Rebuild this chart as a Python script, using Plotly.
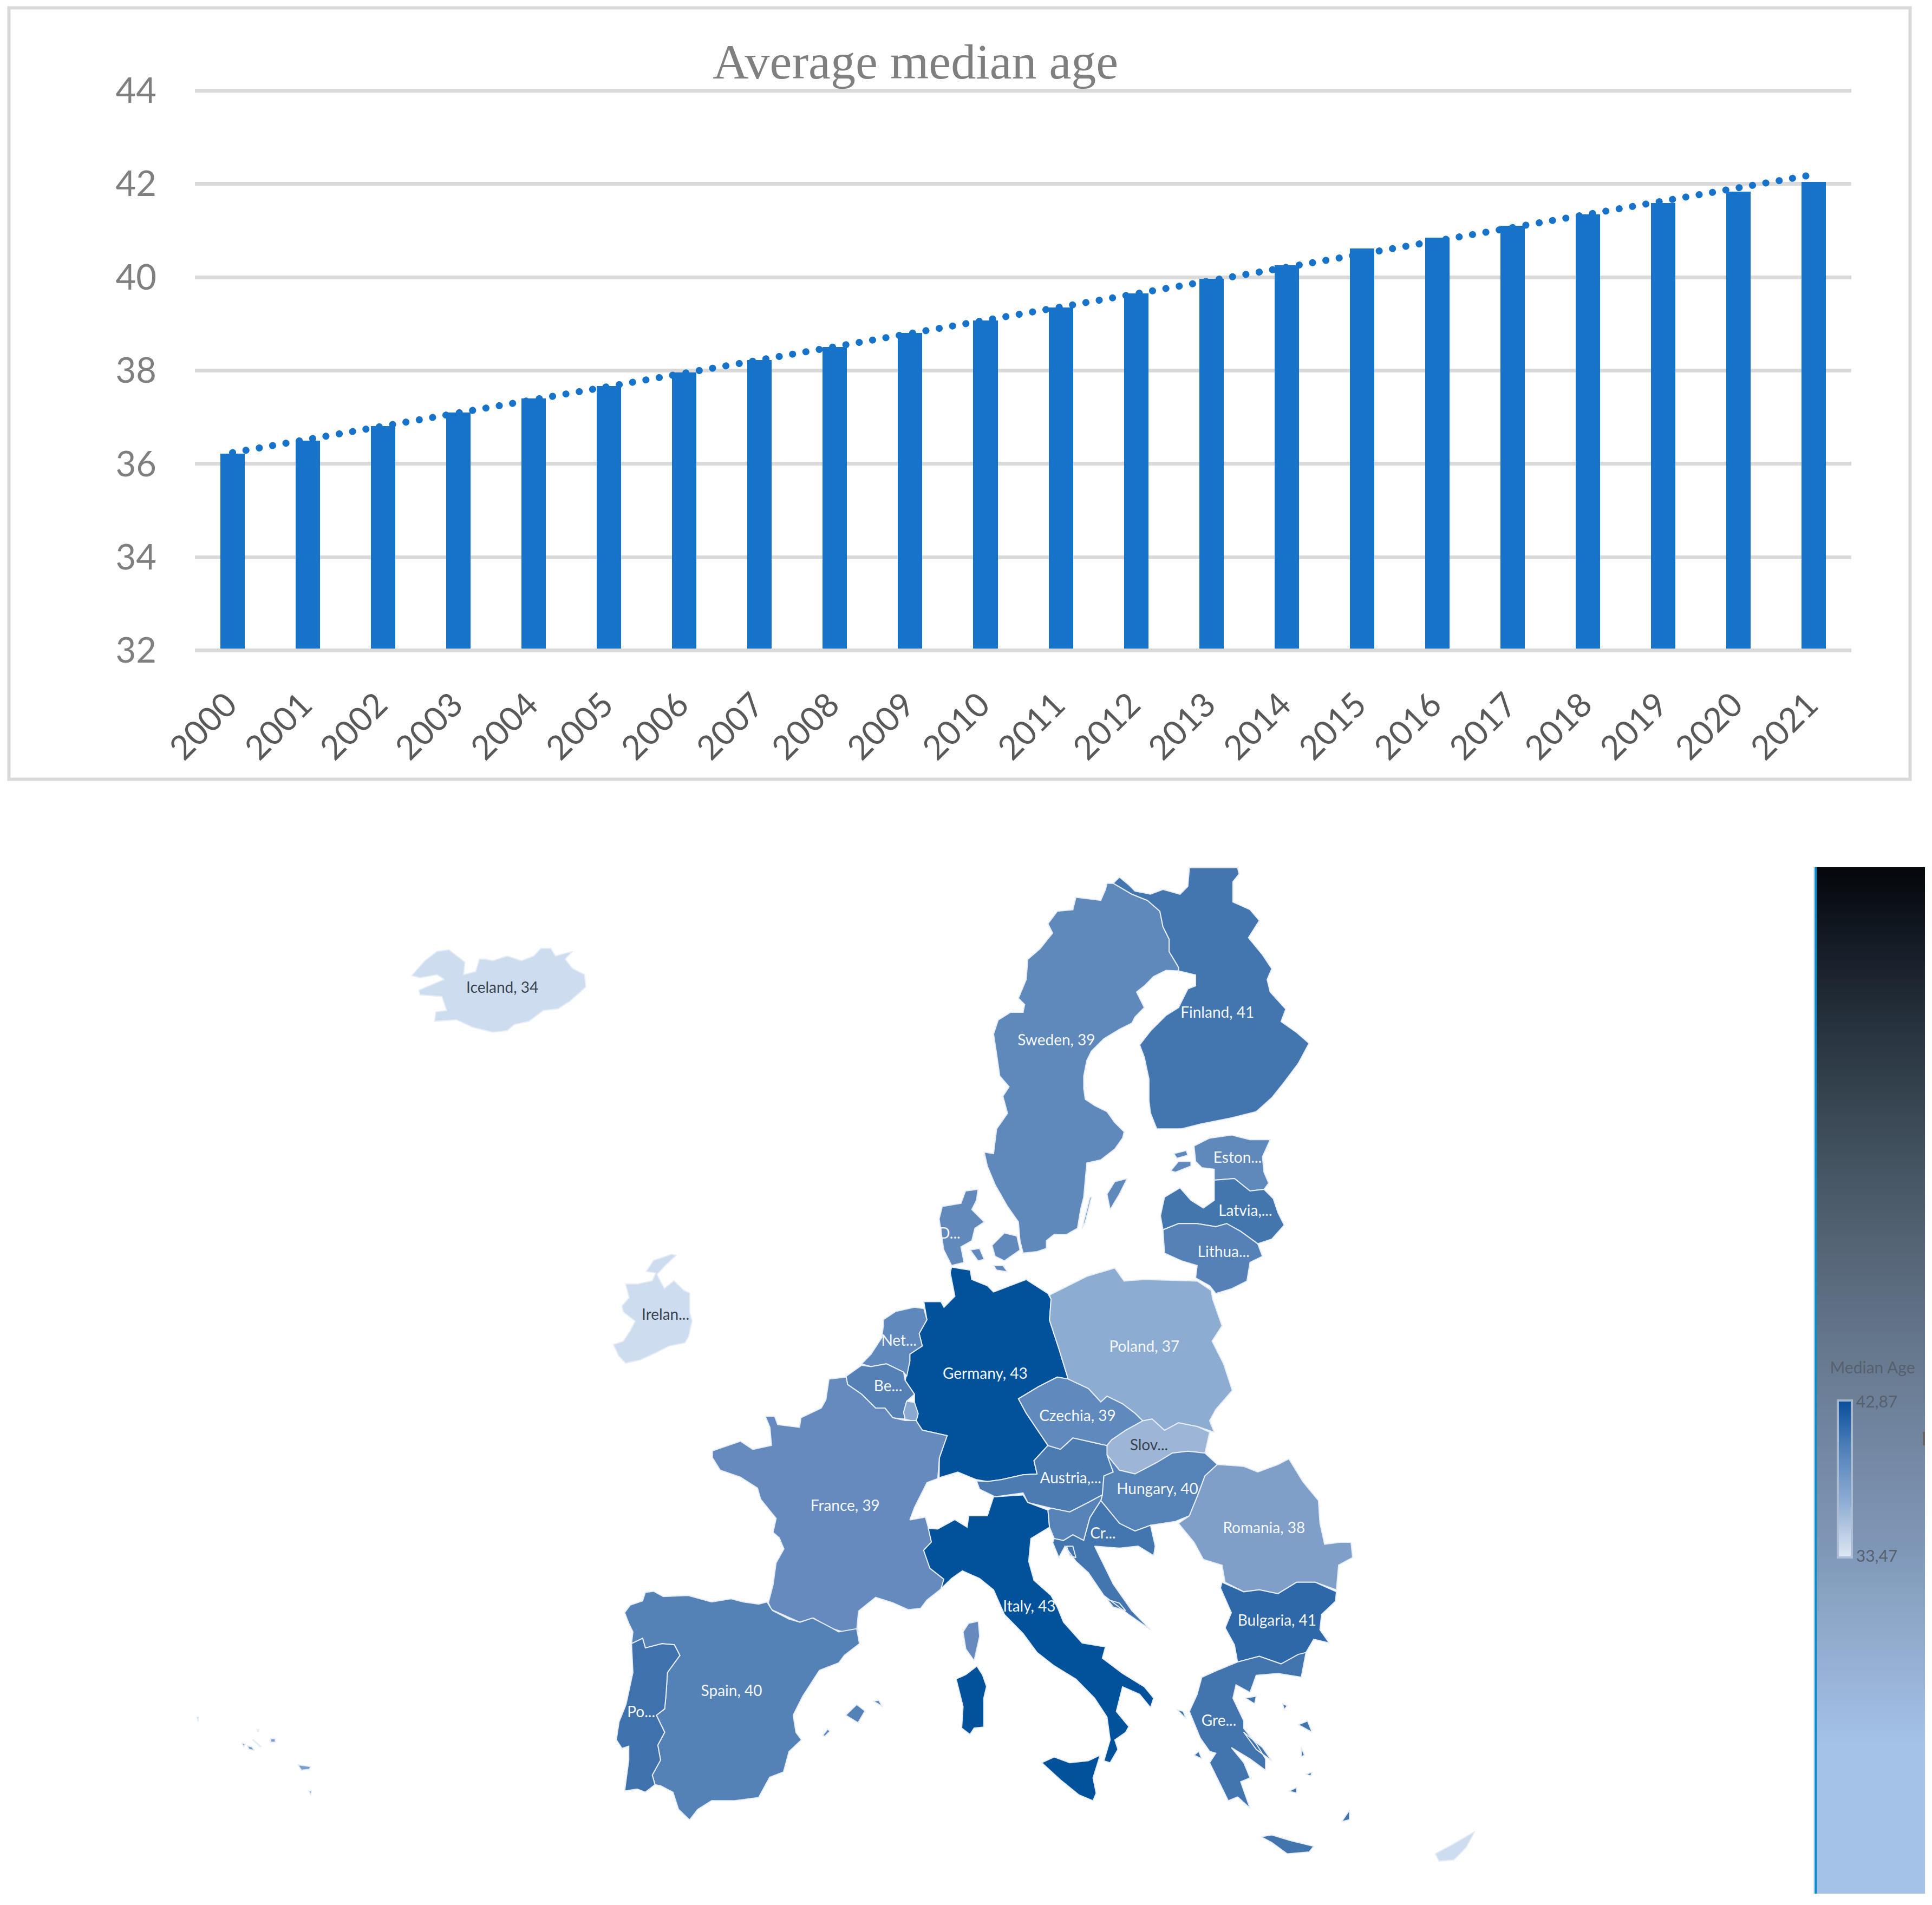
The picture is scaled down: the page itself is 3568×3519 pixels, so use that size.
import numpy as np
import plotly.graph_objects as go

W, H = 3568, 3519

years = list(range(2000, 2022))
median_age = [36.22, 36.5, 36.81, 37.1, 37.4, 37.67, 37.96, 38.22, 38.5, 38.8, 39.07,
              39.35, 39.65, 39.96, 40.26, 40.62, 40.85, 41.1, 41.35, 41.59, 41.83, 42.04]
trend_years = [2000, 2021]
trend_age = [36.24, 42.2]
y_ticks = [32, 34, 36, 38, 40, 42, 44]

BAR_BLUE = "#1772C9"
GRID = "#D9D9D9"
LABEL_FONT = "Lato, sans-serif"


# outlines were traced on enlarged crops of the map: crop origin and scale in each direction
def trace(crop, pts):
    x0, y0, sx, sy = crop
    return [(x0 + px / sx, y0 + py / sy) for px, py in pts]


NORTH = (1700, 1580, 1.742, 1.742)
WEST = (1000, 2300, 1.742, 1.96)
SOUTH = (1700, 2400, 1.742, 1.425)
IBERIA = (1100, 2900, 1.96, 2.533)
ATLANTIC = (700, 1700, 2.24, 1.742)
CANARY = (300, 3100, 3, 3)
WHOLE = (0, 0, 0.4395, 0.4395)

sweden = [
    trace(NORTH, [(600, 90), (620, 90), (680, 125), (730, 145), (770, 180), (780, 230), (800, 270), (800, 310), (830, 360), (830, 372), (790, 370), (750, 390), (720, 420), (695, 440), (710, 470), (720, 490), (690, 520), (680, 540), (640, 560), (590, 590), (550, 630), (535, 660), (525, 710), (525, 750), (530, 785), (560, 805), (600, 825), (625, 860), (655, 890), (650, 910), (625, 945), (580, 980), (535, 990), (530, 1050), (525, 1100), (515, 1140), (505, 1200), (470, 1220), (430, 1220), (405, 1240), (405, 1265), (375, 1275), (330, 1280), (320, 1240), (315, 1180), (280, 1130), (240, 1060), (215, 1000), (205, 955), (235, 960), (245, 880), (280, 830), (265, 775), (285, 745), (255, 710), (245, 640), (235, 575), (250, 530), (290, 505), (330, 505), (335, 480), (315, 460), (340, 400), (345, 335), (385, 300), (425, 250), (410, 220), (440, 180), (490, 175), (500, 135), (580, 145), (595, 110)]),
    trace(NORTH, [(600, 1090), (625, 1050), (665, 1040), (640, 1090), (610, 1140)]),
    trace(NORTH, [(520, 1200), (545, 1100), (550, 1100), (530, 1180)]),
]
finland = [
    trace(NORTH, [(640, 70), (670, 95), (690, 115), (740, 125), (780, 110), (835, 125), (860, 100), (865, 40), (1020, 40), (1025, 60), (1005, 85), (1005, 150), (1060, 175), (1090, 210), (1055, 265), (1100, 320), (1130, 365), (1115, 400), (1125, 440), (1175, 495), (1160, 535), (1210, 570), (1250, 605), (1215, 670), (1170, 730), (1130, 780), (1080, 825), (1000, 845), (900, 865), (840, 880), (760, 880), (740, 830), (735, 790), (735, 720), (720, 650), (705, 610), (740, 565), (790, 515), (830, 490), (860, 430), (885, 420), (885, 385), (830, 372), (830, 360), (800, 310), (800, 270), (780, 230), (770, 180), (730, 145), (680, 125), (620, 90)]),
]
estonia = [
    trace(NORTH, [(880, 935), (930, 910), (1000, 900), (1060, 915), (1125, 915), (1100, 970), (1105, 1020), (1120, 1055), (1105, 1075), (1060, 1080), (1010, 1040), (945, 1045), (945, 1010), (905, 1005), (885, 985)]),
    trace(NORTH, [(805, 1015), (830, 985), (870, 985), (870, 1000), (820, 1020)]),
    trace(NORTH, [(815, 960), (855, 950), (860, 965), (825, 975)]),
]
latvia = [
    trace(NORTH, [(945, 1045), (1010, 1040), (1060, 1080), (1105, 1075), (1135, 1105), (1150, 1150), (1170, 1190), (1130, 1235), (1085, 1250), (1030, 1210), (985, 1185), (950, 1195), (890, 1185), (830, 1185), (780, 1205), (772, 1160), (785, 1100), (835, 1070), (870, 1110), (910, 1135), (945, 1110)]),
]
lithuania = [
    trace(NORTH, [(780, 1205), (830, 1185), (890, 1185), (950, 1195), (985, 1185), (1030, 1210), (1085, 1250), (1100, 1290), (1060, 1310), (1050, 1370), (1000, 1395), (950, 1410), (930, 1385), (885, 1360), (890, 1320), (840, 1305), (785, 1280)]),
]
denmark = [
    trace(NORTH, [(60, 1170), (70, 1130), (130, 1120), (145, 1080), (185, 1075), (180, 1110), (165, 1140), (205, 1180), (175, 1200), (165, 1240), (130, 1260), (140, 1310), (100, 1320), (75, 1270)]),
    trace(NORTH, [(160, 1270), (190, 1265), (205, 1300), (185, 1305)]),
    trace(NORTH, [(230, 1255), (270, 1215), (310, 1225), (320, 1270), (270, 1305), (240, 1290)]),
    trace(NORTH, [(235, 1320), (265, 1320), (280, 1340), (245, 1335)]),
]
germany = [
    trace(NORTH, [(100, 1325), (160, 1335), (165, 1365), (215, 1385), (235, 1405), (300, 1380), (340, 1365), (410, 1410)])
    + trace(SOUTH, [(420, 0), (415, 55), (445, 130), (475, 210), (440, 205), (380, 230), (315, 262), (340, 300), (410, 385), (365, 425), (375, 460), (330, 462), (260, 475), (215, 480), (180, 475), (120, 455), (60, 470)])
    + trace(WEST, [(1280, 770), (1305, 690), (1225, 670), (1205, 635), (1200, 570), (1200, 540), (1170, 490), (1185, 420), (1185, 395), (1225, 365), (1215, 320), (1240, 270), (1230, 205), (1285, 205), (1295, 225), (1330, 185), (1315, 100)]),
]
netherlands = [
    trace(WEST, [(1100, 270), (1140, 240), (1200, 225), (1230, 230), (1240, 270), (1215, 320), (1225, 365), (1185, 395), (1185, 420), (1175, 475), (1165, 460), (1110, 430), (1060, 440), (1030, 430), (1060, 395), (1095, 335), (1100, 290)]),
]
belgium = [
    trace(WEST, [(980, 475), (1030, 435), (1060, 440), (1110, 430), (1165, 460), (1170, 490), (1200, 540), (1175, 565), (1165, 605), (1170, 630), (1130, 625), (1105, 590), (1075, 590), (1030, 540), (985, 505)]),
]
luxembourg = [
    trace(WEST, [(1175, 565), (1200, 570), (1212, 610), (1205, 640), (1170, 630), (1165, 605)]),
]
france = [
    trace(WEST, [(925, 485), (980, 478), (985, 505), (1030, 540), (1075, 590), (1105, 590), (1130, 625), (1170, 635), (1205, 635), (1225, 670), (1305, 690), (1280, 770), (1275, 845), (1240, 860), (1200, 950), (1185, 995), (1235, 985), (1245, 1025), (1255, 1075), (1230, 1105), (1250, 1170), (1295, 1210), (1285, 1245), (1240, 1285), (1220, 1315), (1180, 1320), (1130, 1295), (1075, 1275), (1020, 1325), (1015, 1385), (1020, 1400), (985, 1405), (925, 1385), (875, 1350), (830, 1365), (780, 1340), (740, 1320), (730, 1295), (745, 1230), (755, 1150), (780, 1100), (765, 1060), (745, 1040), (755, 990), (705, 920), (695, 880), (640, 840), (575, 815), (550, 770), (550, 745), (640, 710), (680, 740), (740, 725), (735, 660), (720, 620), (750, 620), (760, 650), (830, 660), (835, 625), (900, 590), (915, 560)]),
    trace(IBERIA, [(1330, 290), (1350, 250), (1385, 240), (1390, 310), (1370, 425), (1340, 370)]),
]
spain = [
    trace(IBERIA, [(105, 200), (125, 165), (170, 145), (180, 105), (210, 100), (245, 125), (335, 120), (420, 150), (490, 135), (535, 150), (590, 160), (620, 150), (640, 190), (700, 230), (740, 245), (785, 225), (845, 265), (880, 290), (945, 275), (955, 345), (900, 400), (880, 435), (810, 470), (785, 520), (750, 590), (715, 680), (725, 760), (745, 795), (700, 850), (680, 945), (630, 970), (590, 1065), (500, 1080), (420, 1080), (370, 1120), (340, 1170), (300, 1120), (280, 1040), (235, 1010), (215, 1005), (205, 960), (235, 890), (225, 820), (250, 760), (220, 680), (250, 650), (255, 580), (260, 480), (305, 400), (285, 350), (240, 345), (180, 365), (170, 320), (130, 345), (135, 290), (120, 250)]),
    trace(IBERIA, [(905, 680), (945, 630), (975, 660), (950, 715)]),
    trace(IBERIA, [(1005, 615), (1025, 610), (1038, 640), (1020, 625)]),
    trace(IBERIA, [(822, 775), (840, 745), (848, 755), (830, 778)]),
]
portugal = [
    trace(IBERIA, [(130, 345), (170, 320), (180, 365), (240, 345), (285, 350), (305, 400), (260, 480), (255, 580), (250, 650), (220, 680), (250, 760), (225, 820), (235, 890), (205, 960), (215, 1005), (180, 1040), (150, 1025), (105, 1035), (120, 890), (120, 825), (95, 835), (75, 795), (85, 710), (110, 630), (135, 480)]),
]
italy = [
    trace(SOUTH, [(235, 520), (330, 515), (345, 535), (410, 555), (415, 600), (355, 630), (348, 690), (365, 740), (420, 780), (440, 810), (460, 850), (520, 905), (595, 915), (585, 945), (650, 985), (720, 1020), (750, 1050), (740, 1075), (705, 1040), (650, 1020), (630, 1085), (670, 1125), (660, 1140), (625, 1160), (635, 1185), (610, 1220), (590, 1215), (610, 1160), (600, 1100), (560, 1050), (500, 1000), (430, 965), (375, 930), (330, 880), (270, 830), (235, 765), (190, 735), (135, 715), (100, 735), (66, 762), (75, 737), (30, 708), (10, 661), (35, 639), (25, 603), (55, 605), (110, 580), (150, 600), (155, 570), (215, 570)]),
    trace(SOUTH, [(390, 1220), (430, 1205), (480, 1220), (540, 1215), (578, 1200), (555, 1260), (565, 1300), (555, 1320), (510, 1305), (450, 1265)]),
    trace(IBERIA, [(1305, 510), (1340, 490), (1380, 450), (1400, 490), (1415, 545), (1405, 600), (1405, 735), (1370, 740), (1355, 770), (1325, 740), (1330, 640), (1320, 590)]),
]
austria = [
    trace(SOUTH, [(180, 478), (215, 480), (260, 475), (330, 462), (375, 460), (365, 425), (410, 385), (450, 395), (490, 365), (545, 375), (600, 385), (605, 420), (620, 455), (590, 465), (585, 515), (540, 535), (480, 560), (420, 550), (345, 535), (330, 510), (240, 520), (190, 500)]),
]
czechia = [
    trace(SOUTH, [(315, 262), (380, 230), (440, 205), (475, 210), (540, 235), (580, 270), (600, 255), (650, 275), (690, 300), (715, 320), (660, 345), (615, 370), (600, 385), (545, 375), (490, 365), (450, 395), (410, 385), (340, 300)]),
]
slovakia = [
    trace(SOUTH, [(715, 320), (745, 315), (785, 345), (830, 325), (890, 335), (930, 350), (915, 405), (860, 400), (810, 405), (760, 430), (690, 460), (640, 450), (600, 410), (600, 385), (615, 370), (660, 345)]),
]
hungary = [
    trace(SOUTH, [(600, 410), (640, 450), (690, 460), (760, 430), (810, 405), (860, 400), (915, 405), (955, 435), (915, 465), (890, 520), (865, 570), (820, 585), (740, 595), (690, 610), (640, 590), (580, 530), (585, 515), (590, 465), (620, 455)]),
]
poland = [
    trace(NORTH, [(415, 1415), (535, 1355), (625, 1328), (655, 1370), (720, 1365), (890, 1370), (935, 1400)])
    + trace(SOUTH, [(940, 0), (970, 70), (938, 110), (975, 170), (1003, 240), (950, 290), (930, 320), (945, 350), (890, 335), (830, 325), (785, 345), (745, 315), (715, 320), (690, 300), (650, 275), (600, 255), (580, 270), (540, 235), (475, 210), (445, 130), (415, 55), (420, 0)]),
]
slovenia = [
    trace(SOUTH, [(420, 550), (480, 560), (540, 535), (585, 515), (580, 530), (545, 575), (525, 635), (490, 620), (460, 635), (430, 630), (415, 600), (410, 555)]),
]
croatia = [
    trace(SOUTH, [(580, 530), (640, 590), (690, 610), (740, 595), (755, 650), (750, 675), (700, 650), (640, 655), (560, 650), (590, 700), (620, 750), (680, 820), (740, 870), (670, 830), (590, 780), (540, 720), (500, 690), (465, 650), (445, 680), (425, 640), (430, 630), (460, 635), (490, 620), (525, 635), (545, 575)]),
    trace(SOUTH, [(470, 650), (490, 650), (500, 680), (480, 675)]),
    trace(SOUTH, [(600, 790), (640, 800), (660, 820), (620, 810)]),
]
romania = [
    trace(SOUTH, [(955, 435), (1040, 440), (1085, 455), (1150, 435), (1185, 420), (1230, 480), (1280, 530), (1285, 590), (1300, 645), (1350, 640), (1385, 640), (1390, 680), (1345, 700), (1338, 765), (1270, 745), (1210, 745), (1150, 775), (1090, 765), (1040, 770), (980, 745), (970, 700), (910, 685), (880, 640), (830, 590), (865, 570), (890, 520), (915, 465)]),
]
bulgaria = [
    trace(SOUTH, [(970, 745), (1040, 770), (1090, 765), (1150, 775), (1210, 745), (1270, 745), (1338, 770), (1335, 795), (1290, 830), (1285, 870), (1315, 905), (1265, 895), (1240, 930), (1230, 950), (1160, 960), (1090, 940), (1020, 955), (1010, 910), (980, 865), (1000, 825), (965, 760)]),
]
greece = [
    trace(SOUTH, [(1020, 955), (1090, 940), (1160, 960), (1215, 935), (1240, 930), (1225, 995), (1150, 985), (1080, 990), (1060, 1035), (1015, 1015), (1005, 1050), (1040, 1110), (1040, 1130), (1080, 1170), (1110, 1210), (1110, 1240), (1060, 1210), (1000, 1180), (1040, 1220), (1060, 1260), (1030, 1270), (1060, 1340), (1020, 1310), (990, 1320), (960, 1270), (930, 1220), (950, 1195), (930, 1190), (900, 1155), (865, 1085), (890, 1040), (905, 995), (960, 975)]),
    trace(SOUTH, [(1095, 1415), (1130, 1410), (1190, 1425), (1265, 1440), (1250, 1455), (1180, 1460), (1130, 1430)]),
    trace(SOUTH, [(1215, 1120), (1245, 1110), (1260, 1140)]),
    trace(SOUTH, [(1355, 1375), (1380, 1345), (1380, 1370)]),
    trace(SOUTH, [(880, 1200), (895, 1190), (905, 1210)]),
    trace(SOUTH, [(1225, 1180), (1235, 1200), (1225, 1205)]),
    trace(SOUTH, [(1185, 1295), (1210, 1285), (1210, 1300)]),
    trace(SOUTH, [(1165, 1065), (1180, 1070), (1170, 1080)]),
    trace(SOUTH, [(1040, 1140), (1100, 1180), (1130, 1215), (1080, 1185)]),
    trace(SOUTH, [(1045, 1050), (1080, 1045), (1075, 1065)]),
    trace(SOUTH, [(1240, 1250), (1260, 1245), (1255, 1255)]),
    trace(SOUTH, [(825, 1080), (845, 1085), (855, 1105)]),
]
iceland = [
    trace(ATLANTIC, [(135, 178), (190, 130), (240, 100), (290, 95), (355, 135), (350, 175), (400, 165), (415, 125), (440, 125), (470, 130), (530, 115), (590, 130), (640, 115), (670, 90), (710, 90), (730, 115), (800, 100), (770, 125), (800, 155), (850, 175), (855, 215), (790, 260), (740, 285), (680, 290), (620, 325), (560, 335), (530, 355), (470, 360), (390, 345), (320, 320), (230, 325), (235, 295), (280, 290), (260, 245), (170, 240), (165, 225), (270, 190), (240, 175), (170, 185)]),
]
ireland = [
    trace(ATLANTIC, [(1105, 1130), (1135, 1095), (1210, 1075), (1230, 1078), (1185, 1110), (1150, 1140), (1180, 1185), (1220, 1160), (1260, 1190), (1285, 1200), (1285, 1260), (1295, 1290), (1280, 1340), (1265, 1360), (1200, 1370), (1150, 1390), (1080, 1415), (1020, 1425), (990, 1400), (970, 1365), (1010, 1355), (1040, 1320), (1060, 1290), (1010, 1260), (1005, 1240), (1035, 1215), (1020, 1170), (1070, 1170), (1130, 1160), (1145, 1135)]),
]
cyprus = [
    trace(WHOLE, [(1165, 1505), (1178, 1498), (1197, 1487), (1190, 1500), (1180, 1510), (1168, 1511)]),
]
canaries = [
    trace(CANARY, [(440, 360), (460, 365), (450, 380)]),
    trace(CANARY, [(470, 375), (495, 380), (510, 400), (480, 395)]),
    trace(CANARY, [(600, 335), (625, 335), (625, 355), (600, 355)]),
    trace(CANARY, [(500, 342), (505, 342), (545, 378), (540, 380)]),
    trace(CANARY, [(750, 480), (820, 490), (815, 505), (770, 510)]),
    trace(CANARY, [(525, 285), (533, 285), (530, 300)]),
    trace(CANARY, [(190, 215), (200, 215), (198, 240)]),
    trace(CANARY, [(810, 625), (825, 625), (822, 648)]),
]

map_shapes = [sweden, finland, estonia, latvia, lithuania, denmark, germany, netherlands, belgium,
              luxembourg, france, spain, portugal, italy, austria, czechia, slovakia, hungary, poland,
              slovenia, croatia, romania, bulgaria, greece, iceland, ireland, cyprus, canaries]
map_names = ["Sweden", "Finland", "Estonia", "Latvia", "Lithuania", "Denmark", "Germany", "Netherlands", "Belgium",
             "Luxembourg", "France", "Spain", "Portugal", "Italy", "Austria", "Czechia", "Slovakia", "Hungary", "Poland",
             "Slovenia", "Croatia", "Romania", "Bulgaria", "Greece", "Iceland", "Ireland", "Cyprus", "Canaries"]
map_colors = ["#5F89BB", "#4375AE", "#6089BB", "#4476AE", "#5581B7", "#6189BC", "#02529B", "#5F88BC", "#5480B6",
              "#8AA9D0", "#648ABE", "#5582B6", "#3F72AD", "#02529B", "#4C7BB2", "#6089BD", "#9DB6D8", "#5582B7", "#8DACD2",
              "#5783B8", "#4375AE", "#7F9FC8", "#2F68A8", "#4274AE", "#CDDDEF", "#CDDDEF", "#CDDDEF", "#7B9FCC"]

# country labels, placed on the same crops
light_labels = ["Sweden, 39", "Finland, 41", "Eston...", "Latvia,...", "Lithua...", "D...", "Germany, 43",
                "Net...", "Be...", "Poland, 37", "Czechia, 39", "Austria,...", "Hungary, 40", "Romania, 38",
                "Cr...", "France, 39", "Italy, 43", "Bulgaria, 41", "Gre...", "Spain, 40", "Po..."]
light_label_pos = (
    trace(NORTH, [(437, 600), (955, 510), (1020, 978), (1045, 1148), (975, 1280), (93, 1222)])
    + trace(SOUTH, [(208, 200)])
    + trace(WEST, [(1150, 350), (1115, 515)])
    + trace(SOUTH, [(720, 128), (505, 310), (483, 475), (762, 503), (1105, 605), (587, 620)])
    + trace(WEST, [(977, 948)])
    + trace(SOUTH, [(350, 812), (1147, 850), (960, 1113)])
    + trace(IBERIA, [(492, 572), (165, 672)])
)
dark_labels = ["Iceland, 34", "Irelan...", "Slov..."]
dark_label_pos = trace(ATLANTIC, [(510, 222), (1185, 1273)]) + trace(SOUTH, [(735, 388)])

legend_title = "Median Age"
legend_max = "42,87"
legend_min = "33,47"

# background panel behind the legend, dark at the top to pale blue at the bottom
panel_stops = [0, 0.086, 0.184, 0.282, 0.379, 0.477, 0.575, 0.673, 0.705, 0.77, 0.855, 1]
panel_colors = ["#04070B", "#171F29", "#2D3A46", "#43525F", "#566678", "#67798F", "#7589A5", "#8098B9",
                "#88A2C2", "#95AFD2", "#A4C1E8", "#A4C1E8"]
ramp_stops = [0, 0.35, 0.7, 1]
ramp_colors = ["#DDE6F3", "#8FADD3", "#4F80B9", "#0A4F9C"]

fig = go.Figure()

# bar chart
fig.add_trace(go.Bar(
    x=years, y=[v - 32.04 for v in median_age], base=32.04, width=0.324,
    marker=dict(color=BAR_BLUE, line_width=0), xaxis="x", yaxis="y", showlegend=False,
))
fig.add_trace(go.Scatter(
    x=trend_years, y=trend_age, mode="lines", xaxis="x", yaxis="y", showlegend=False,
    line=dict(color=BAR_BLUE, width=13, dash="0.1px,24.9px"),
))

# legend panel
panel_edges = np.linspace(1602, 3498, 381)
panel_mid = (panel_edges[:-1] + panel_edges[1:]) / 2
fig.add_trace(go.Heatmap(
    x=[3355, 3555], y=panel_edges, z=[[(v - 1602) / 1896] for v in panel_mid], zmin=0, zmax=1,
    colorscale=list(zip(panel_stops, panel_colors)), showscale=False, xaxis="x2", yaxis="y2", hoverinfo="skip",
))
ramp_edges = np.linspace(2589, 2875, 144)
ramp_mid = (ramp_edges[:-1] + ramp_edges[1:]) / 2
fig.add_trace(go.Heatmap(
    x=[3396, 3418], y=ramp_edges, z=[[(2875 - v) / 286] for v in ramp_mid], zmin=0, zmax=1,
    colorscale=list(zip(ramp_stops, ramp_colors)), showscale=False, xaxis="x2", yaxis="y2", hoverinfo="skip",
))

# map
for name, shape, color in zip(map_names, map_shapes, map_colors):
    xs, ys = [], []
    for ring in shape:
        xs += [p[0] for p in ring] + [ring[0][0], None]
        ys += [p[1] for p in ring] + [ring[0][1], None]
    fig.add_trace(go.Scatter(
        x=xs, y=ys, name=name, mode="lines", fill="toself", fillcolor=color,
        line=dict(color="#E6EDF6", width=2), xaxis="x2", yaxis="y2", showlegend=False,
    ))

fig.add_trace(go.Scatter(
    x=[p[0] for p in light_label_pos], y=[p[1] for p in light_label_pos], text=light_labels, mode="text",
    textfont=dict(family=LABEL_FONT, size=28, color="#F4F7FB"),
    xaxis="x2", yaxis="y2", showlegend=False,
))
fig.add_trace(go.Scatter(
    x=[p[0] for p in dark_label_pos], y=[p[1] for p in dark_label_pos], text=dark_labels, mode="text",
    textfont=dict(family=LABEL_FONT, size=28, color="#3A424E"),
    xaxis="x2", yaxis="y2", showlegend=False,
))
fig.add_trace(go.Scatter(
    x=[3458, 3466, 3466], y=[2529, 2592, 2877], text=[legend_title, legend_max, legend_min], mode="text",
    textfont=dict(family=LABEL_FONT, size=30, color="#57606C"),
    xaxis="x2", yaxis="y2", showlegend=False,
))

fig.update_layout(
    width=W, height=H, margin=dict(l=0, r=0, t=0, b=0, autoexpand=False),
    paper_bgcolor="white", plot_bgcolor="rgba(0,0,0,0)", bargap=0,
    xaxis=dict(
        domain=[360 / W, 3419 / W], range=[1999.5, 2021.5], tickmode="array", tickvals=years,
        ticktext=[str(y) for y in years], tickangle=-45, showgrid=False, zeroline=False, showline=False,
        ticks="", ticklabelstandoff=46, ticklabelshift=-10,
        tickfont=dict(family="Lato, sans-serif", size=62, color="#595959"), anchor="y", automargin=False,
    ),
    yaxis=dict(
        domain=[(H - 1205.8) / H, (H - 163) / H], range=[31.95, 44.05], tickvals=y_ticks, showgrid=True,
        gridcolor=GRID, gridwidth=7, zeroline=False, showline=False, ticks="", ticklabelstandoff=70,
        tickfont=dict(family="Lato, sans-serif", size=65, color="#7F7F7F"), anchor="x", automargin=False,
    ),
    xaxis2=dict(domain=[0, 1], range=[0, W], visible=False, anchor="y2", fixedrange=True),
    yaxis2=dict(domain=[0, 1], range=[H, 0], visible=False, anchor="x2", fixedrange=True),
    shapes=[
        dict(type="rect", xref="x2", yref="y2", x0=16.5, x1=3527.5, y0=14.5, y1=1439.5,
             line=dict(color=GRID, width=6), layer="below"),
        dict(type="line", xref="x2", yref="y2", x0=3350.5, x1=3350.5, y0=1602, y1=3498,
             line=dict(color="#9BD0EE", width=2), layer="above"),
        dict(type="line", xref="x2", yref="y2", x0=3353.5, x1=3353.5, y0=1602, y1=3498,
             line=dict(color="#0B8CCB", width=4), layer="above"),
        dict(type="rect", xref="x2", yref="y2", x0=3394, x1=3420, y0=2587, y1=2877,
             line=dict(color="rgba(205,218,235,0.6)", width=4), layer="above"),
        dict(type="rect", xref="x2", yref="y2", x0=3551, x1=3555, y0=2645, y1=2670,
             fillcolor="#6B6660", line_width=0, layer="above"),
    ],
    annotations=[
        dict(text="Average median age", xref="x2", yref="y2", x=1690, y=114, showarrow=False,
             xanchor="center", yanchor="middle",
             font=dict(family="Liberation Serif, serif", size=92, color="#7F7F7F")),
    ],
)

fig.write_html(
    "out.html",
    config={"displayModeBar": False},
    post_script="document.body.style.margin='0';"
    "var s=document.createElement('style');s.innerHTML='.js-line{stroke-linecap:round}';"
    "document.head.appendChild(s);",
)
